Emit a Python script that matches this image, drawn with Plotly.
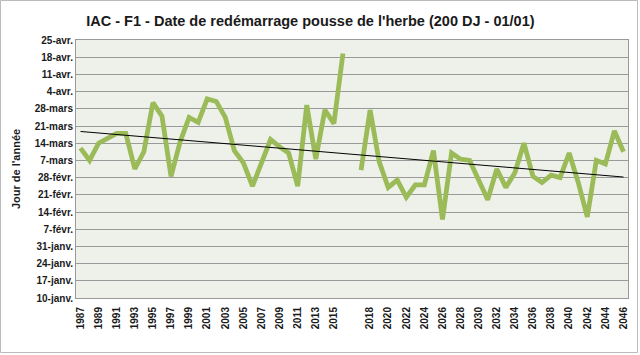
import numpy as np
import plotly.graph_objects as go

years_a = list(range(1987, 2017))
values_a = [71, 66, 73, 75, 77, 77, 62.5, 69.5, 89.5, 84,
            59.5, 73.5, 83.5, 81.5, 91, 90, 83.5, 70, 65, 55.5,
            65, 74.5, 71.5, 69, 55.5, 88.5, 66.5, 86.5, 81, 109.5]
years_b = list(range(2017, 2047))
values_b = [62, 86.5, 65.5, 55, 58, 51, 56, 56, 70, 42,
            69, 66.5, 66, 57.5, 50, 62.5, 55, 61, 73, 59.5,
            57, 60, 59, 69, 57, 43, 66, 64.5, 78, 69.5]

# category sequence with one empty slot between the two periods
year_labels = [str(y) for y in years_a] + [""] + [str(y) for y in years_b]
values = values_a + [None] + values_b

y_tick_days = [10, 17, 24, 31, 38, 45, 52, 59, 66, 73, 80, 87, 94, 101, 108, 115]
y_tick_text = ["10-janv.", "17-janv.", "24-janv.", "31-janv.", "7-févr.", "14-févr.",
               "21-févr.", "28-févr.", "7-mars", "14-mars", "21-mars", "28-mars",
               "4-avr.", "11-avr.", "18-avr.", "25-avr."]

idx = list(range(len(year_labels)))
xi = np.array([i for i, v in zip(idx, values) if v is not None], dtype=float)
yi = np.array([v for v in values if v is not None], dtype=float)
slope, intercept = np.polyfit(xi, yi, 1)
trend_x = [idx[0], idx[-1]]
trend_y = [intercept + slope * x for x in trend_x]

fig = go.Figure()
fig.add_trace(go.Scatter(x=idx, y=values, mode="lines",
                         line=dict(color="#9BBB59", width=4.8),
                         connectgaps=False, showlegend=False))
fig.add_trace(go.Scatter(x=trend_x, y=trend_y, mode="lines",
                         line=dict(color="#000000", width=1),
                         showlegend=False))

tick_idx = idx[::2]
tick_txt = [year_labels[i] for i in tick_idx]

L, R, T, B = 76, 12, 40, 57
W, H = 640, 355
pw, ph = W - L - R, H - T - B

fig.update_layout(
    width=W, height=H,
    autosize=False,
    margin=dict(l=L, r=R, t=T, b=B, autoexpand=False),
    paper_bgcolor="white",
    plot_bgcolor="#EEF0EA",
    font=dict(family="Liberation Sans", size=10, color="#1a1a1a"),
    title=dict(text="<b>IAC - F1 - Date de redémarrage pousse de l'herbe (200 DJ - 01/01)</b>",
               x=0.485, xanchor="center", y=0.94, yanchor="middle",
               font=dict(family="Liberation Sans", size=14.5, color="#1a1a1a")),
    xaxis=dict(range=[-0.5, len(idx) - 0.5], tickmode="array", tickvals=tick_idx,
               ticktext=["<b>%s</b>" % t for t in tick_txt], tickangle=-90,
               showgrid=False, zeroline=False, automargin=False,
               showline=True, linecolor="#999999", linewidth=1, mirror=True,
               ticks="", tickfont=dict(size=10), ticklabelstandoff=4),
    yaxis=dict(range=[10, 115], tickmode="array", tickvals=y_tick_days,
               ticktext=["<b>%s</b>" % t for t in y_tick_text], automargin=False,
               showgrid=True, gridcolor="#9A9A9A", gridwidth=1, zeroline=False,
               showline=True, linecolor="#999999", linewidth=1, mirror=True,
               ticks="", tickfont=dict(size=10),
               title=dict(text="<b>Jour de l'année</b>", font=dict(size=11), standoff=11)),
    shapes=[dict(type="rect", xref="paper", yref="paper",
                 x0=(0.5 - L) / pw, x1=(W - 2.5 - L) / pw,
                 y0=-(B - 2.5) / ph, y1=(ph + T - 0.5) / ph,
                 line=dict(color="#BBBBBB", width=1), layer="below")],
)

fig.write_html("out.html", config={"displayModeBar": False},
               post_script="document.body.style.margin='0px';document.body.style.overflow='hidden';")
